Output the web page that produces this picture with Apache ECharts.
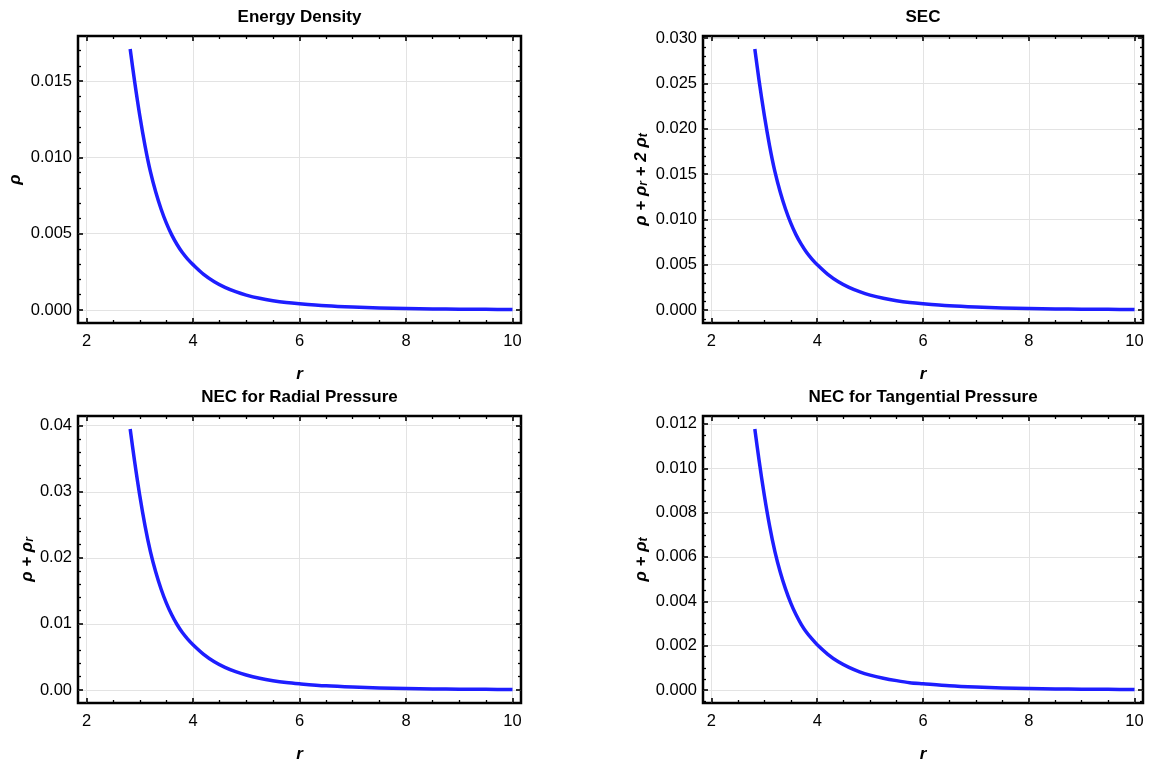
<!DOCTYPE html>
<html><head><meta charset="utf-8">
<script src="https://cdn.jsdelivr.net/npm/echarts@6/dist/echarts.min.js"></script>
<style>html,body{margin:0;padding:0;background:#fff}#c{width:1150px;height:765px}</style>
</head><body><div id="c"></div>
<script>
// ---- data ----
const r = [2.82, 2.9, 3.0, 3.1, 3.2, 3.3, 3.4, 3.5, 3.6, 3.7, 3.8, 3.9, 4.0, 4.2, 4.4, 4.6, 4.8, 5.0, 5.25, 5.5, 5.75, 6.0, 6.5, 7.0, 7.5, 8.0, 8.5, 9.0, 9.5, 10.0];
const energyDensity = [0.01710, 0.01505, 0.01274, 0.01074, 0.00906, 0.00773, 0.00662, 0.00569, 0.00492, 0.00429, 0.00376, 0.00333, 0.00297, 0.00233, 0.00185, 0.00148, 0.00120, 0.000976, 0.000765, 0.000606, 0.000485, 0.000402, 0.000270, 0.000186, 0.000132, 0.0000958, 0.0000701, 0.0000530, 0.0000410, 0.0000308];
const secValues = [0.0288, 0.02534, 0.02146, 0.01809, 0.01526, 0.01302, 0.01115, 0.00959, 0.00829, 0.00723, 0.00634, 0.00562, 0.00500, 0.00393, 0.00311, 0.00249, 0.00202, 0.00164, 0.00129, 0.00102, 0.00082, 0.00068, 0.000455, 0.000314, 0.000222, 0.000161, 0.000118, 0.000089, 0.000069, 0.000052];
const necRadial = [0.0395, 0.03476, 0.02943, 0.02481, 0.02094, 0.01785, 0.01529, 0.01315, 0.01138, 0.00991, 0.00869, 0.00770, 0.00685, 0.00539, 0.00427, 0.00342, 0.00277, 0.00226, 0.00177, 0.00140, 0.00112, 0.00093, 0.00062, 0.00043, 0.000304, 0.000221, 0.000162, 0.000122, 0.000095, 0.000071];
const necTangential = [0.01177, 0.01036, 0.00877, 0.00739, 0.00624, 0.00532, 0.00456, 0.00392, 0.00339, 0.00295, 0.00259, 0.00230, 0.00204, 0.00161, 0.00127, 0.00102, 0.00082, 0.00067, 0.00053, 0.00042, 0.00033, 0.00028, 0.000186, 0.000128, 0.000091, 0.000066, 0.000048, 0.000036, 0.000028, 0.000021];

const titles = ['Energy Density', 'SEC', 'NEC for Radial Pressure', 'NEC for Tangential Pressure'];
const xMajorTicks = [2, 4, 6, 8, 10];
const yMajorTicks = [
  [0, 0.005, 0.010, 0.015],
  [0, 0.005, 0.010, 0.015, 0.020, 0.025, 0.030],
  [0, 0.01, 0.02, 0.03, 0.04],
  [0, 0.002, 0.004, 0.006, 0.008, 0.010, 0.012]
];
const yMinorStep = [0.001, 0.001, 0.002, 0.0005];
const yDecimals = [3, 3, 2, 3];
const xMinorStep = 0.5;
const xRange = [2, 10];

// ---- layout ----
const panels = [
  {left: 78, top: 36, width: 443, height: 287, nameGap: 54},
  {left: 703, top: 36, width: 440, height: 287, nameGap: 53},
  {left: 78, top: 416, width: 443, height: 287, nameGap: 41},
  {left: 703, top: 416, width: 440, height: 287, nameGap: 53}
];
const seriesValues = [energyDensity, secValues, necRadial, necTangential];
const yNames = [
  '{a|ρ}',
  '{a|ρ + ρ}{b|r}{a| + 2 ρ}{b|t}',
  '{a|ρ + ρ}{b|r}',
  '{a|ρ + ρ}{b|t}'
];

function fineTicks(lo, hi, step) {
  const out = [];
  for (let k = Math.ceil(lo / step - 1e-9); k * step <= hi + 1e-12; k++) out.push(+(k * step).toFixed(7));
  return out;
}
function minorOf(lo, hi, step, majors) {
  return fineTicks(lo, hi, step).filter(v => !majors.some(m => Math.abs(m - v) < step * 1e-3));
}

const FONT = 'Liberation Sans, Arial, sans-serif';
const grids = [], xAxes = [], yAxes = [], series = [], titleList = [];
const xPad = (xRange[1] - xRange[0]) * 0.02;
const xMin = xRange[0] - xPad, xMax = xRange[1] + xPad;

panels.forEach((p, i) => {
  grids.push({left: p.left, top: p.top, width: p.width, height: p.height, show: true,
    borderColor: '#000', borderWidth: 2.5, backgroundColor: 'transparent', containLabel: false});
  titleList.push({text: titles[i], left: p.left + p.width / 2, top: p.top - 27, textAlign: 'center', padding: 0,
    textStyle: {fontFamily: FONT, fontSize: 17, fontWeight: 'bold', color: '#000'}});
  const vals = seriesValues[i];
  const vmax = Math.max(...vals), vmin = 0;
  const span = vmax - vmin;
  const yMin = vmin - 0.05 * span, yMax = vmax + 0.05 * span;
  const xMinor = minorOf(xMin, xMax, xMinorStep, xMajorTicks);
  const yMinor = minorOf(yMin, yMax, yMinorStep[i], yMajorTicks[i]);
  const base = xAxes.length, ybase = yAxes.length;
  const tickStyle = (len, w) => ({show: true, inside: true, length: len, lineStyle: {color: '#000', width: w}});
  const hidden = {show: false};
  xAxes.push({type: 'value', gridIndex: i, position: 'bottom', min: xMin, max: xMax,
    axisLine: {show: false, onZero: false},
    axisTick: Object.assign(tickStyle(5, 1.6), {customValues: xMajorTicks}),
    axisLabel: {show: true, customValues: xMajorTicks, fontFamily: FONT, fontSize: 16.5, color: '#000', margin: 10},
    splitLine: {show: true, lineStyle: {color: '#e3e3e3', width: 1}},
    name: 'r', nameLocation: 'middle', nameGap: 43,
    nameTextStyle: {fontFamily: FONT, fontSize: 17, fontWeight: 'bold', fontStyle: 'italic', color: '#000'}});
  [['bottom', xMinor, 3, 1.3], ['top', xMajorTicks, 5, 1.6], ['top', xMinor, 3, 1.3]].forEach(([pos, tv, len, w]) => {
    xAxes.push({type: 'value', gridIndex: i, position: pos, min: xMin, max: xMax,
      axisLine: {show: false, onZero: false},
      axisTick: Object.assign(tickStyle(len, w), {customValues: tv}),
      axisLabel: hidden, splitLine: hidden});
  });
  yAxes.push({type: 'value', gridIndex: i, position: 'left', min: yMin, max: yMax,
    axisLine: {show: false, onZero: false},
    axisTick: Object.assign(tickStyle(5, 1.6), {customValues: yMajorTicks[i]}),
    axisLabel: {show: true, customValues: yMajorTicks[i], formatter: v => Number(v).toFixed(yDecimals[i]),
      fontFamily: FONT, fontSize: 16.5, color: '#000', margin: 6},
    splitLine: {show: true, lineStyle: {color: '#e3e3e3', width: 1}},
    name: yNames[i], nameLocation: 'middle', nameGap: p.nameGap, nameRotate: 90,
    nameTextStyle: {fontFamily: FONT, color: '#000',
      rich: {
        a: {fontFamily: FONT, fontSize: 17, fontWeight: 'bold', fontStyle: 'italic', color: '#000', lineHeight: 21, verticalAlign: 'bottom'},
        b: {fontFamily: FONT, fontSize: 12, fontWeight: 'bold', fontStyle: 'italic', color: '#000', lineHeight: 11, verticalAlign: 'bottom'}
      }}});
  [['left', yMinor, 3, 1.3], ['right', yMajorTicks[i], 5, 1.6], ['right', yMinor, 3, 1.3]].forEach(([pos, tv, len, w]) => {
    yAxes.push({type: 'value', gridIndex: i, position: pos, min: yMin, max: yMax,
      axisLine: {show: false, onZero: false},
      axisTick: Object.assign(tickStyle(len, w), {customValues: tv}),
      axisLabel: hidden, splitLine: hidden});
  });
  series.push({type: 'line', xAxisIndex: base, yAxisIndex: ybase,
    data: r.map((x, k) => [x, vals[k]]), showSymbol: false, smooth: 0.3,
    lineStyle: {color: '#1e1eff', width: 3.5, cap: 'butt', join: 'round'}, clip: true, z: 5});
});

const chart = echarts.init(document.getElementById('c'), null, {renderer: 'canvas'});
chart.setOption({backgroundColor: '#fff', animation: false, title: titleList, grid: grids, xAxis: xAxes, yAxis: yAxes, series});
</script>
</body></html>
